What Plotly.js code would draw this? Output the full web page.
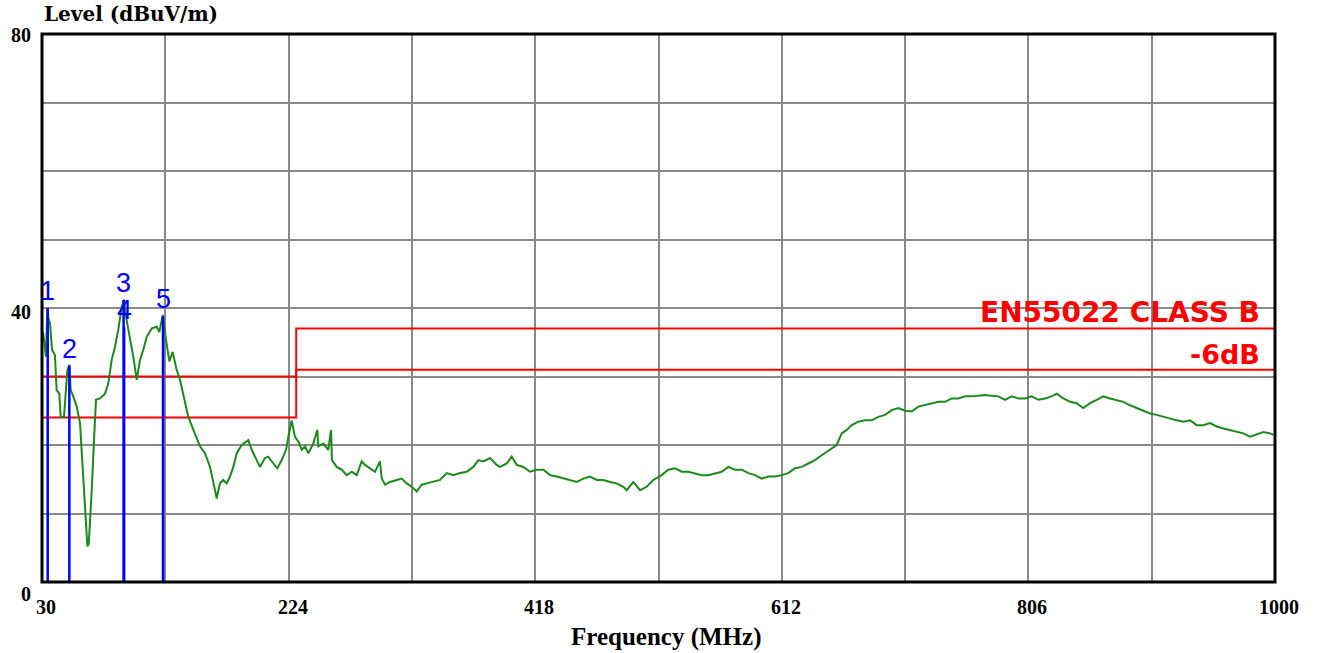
<!DOCTYPE html>
<html>
<head>
<meta charset="utf-8">
<script src="https://cdn.plot.ly/plotly-3.0.1.min.js"></script>
<style>html,body{margin:0;padding:0;background:#fff;}#chart{width:1320px;height:653px;}</style>
</head>
<body>
<div id="chart"></div>
<script>
// ---- data ----
const freqMHz = [30.8,33.1,34.2,35.0,36.3,37.9,40.2,41.5,43.6,44.7,47.3,48.4,49.9,51.5,52.6,54.6,57.3,59.9,61.5,63.0,64.1,65.7,66.8,67.8,69.1,70.9,72.5,75.6,79.6,82.2,84.8,87.4,90.0,92.7,94.5,96.6,99.2,101.8,104.5,107.1,109.7,112.4,116.3,120.2,122.3,125.0,127.6,130.2,132.8,136.0,138.6,141.2,145.1,149.1,154.3,158.2,162.2,166.1,167.4,170.0,172.6,175.3,177.9,180.5,183.2,187.1,192.3,195.0,198.9,201.5,205.4,208.0,210.7,215.1,218.6,222.0,223.8,226.4,229.0,231.7,234.3,236.9,239.5,243.4,246.6,247.4,251.3,255.2,257.4,258.1,261.8,265.8,269.7,273.7,277.6,281.5,284.1,288.0,292.0,295.9,297.3,299.9,303.8,309.1,313.0,316.9,320.9,324.8,328.7,332.7,337.8,343.1,348.4,353.6,358.9,364.1,369.3,373.3,377.2,382.5,387.7,390.3,395.6,399.5,403.5,408.7,413.9,419.2,424.4,429.7,434.9,440.1,445.4,450.7,455.9,461.1,466.4,471.6,476.9,482.1,487.3,490.0,495.2,500.5,505.7,510.9,517.5,522.7,528.0,533.3,538.5,543.7,549.0,554.2,559.5,564.7,570.0,575.2,580.5,585.7,591.0,596.2,601.4,606.7,611.9,617.1,622.4,627.7,632.9,638.1,643.4,649.9,655.2,659.1,663.1,667.0,672.2,677.5,682.7,688.0,693.2,698.5,703.7,709.0,714.2,719.4,724.7,729.9,735.2,740.4,745.7,750.9,756.2,761.4,766.6,771.9,777.1,782.4,787.6,792.9,798.1,803.4,808.6,813.8,819.1,824.3,828.3,833.5,838.8,844.0,849.2,854.5,859.8,865.0,870.2,875.5,880.7,886.0,891.2,896.4,901.7,906.9,912.2,917.4,922.7,927.9,933.2,938.4,943.6,948.9,954.1,959.4,964.6,969.9,975.1,980.4,985.6,990.9,996.1,998.7];
const levelDb = [36.5,32.9,40.0,38.5,37.8,33.9,33.1,28.0,27.5,24.1,24.1,27.5,30.9,31.7,28.0,27.1,25.6,23.2,18.3,13.4,10.5,5.2,5.6,8.6,13.4,20.7,26.6,26.8,27.5,29.0,32.4,34.3,36.8,40.2,41.2,38.2,35.8,32.9,29.5,32.4,33.9,35.8,37.0,37.3,36.5,39.0,35.3,32.2,33.6,30.9,29.5,27.5,24.1,22.2,19.8,18.8,16.8,13.4,12.2,14.4,14.9,14.4,15.4,16.8,18.8,20.0,20.7,19.3,17.8,16.8,18.1,18.3,17.6,16.6,17.8,19.3,21.2,23.6,21.2,20.5,19.3,19.8,18.8,20.2,22.2,19.8,20.2,19.3,22.2,17.8,16.8,16.4,15.6,16.1,15.6,17.6,17.1,16.6,16.1,17.6,15.1,14.2,14.6,14.9,15.1,14.4,13.9,13.2,14.2,14.4,14.6,14.9,15.9,15.6,15.9,16.1,16.8,17.8,17.6,18.1,17.1,16.8,17.3,18.3,17.1,16.8,16.1,16.4,16.4,15.6,15.4,15.1,14.9,14.6,15.1,15.4,14.9,14.9,14.6,14.4,13.9,13.4,14.6,13.4,13.9,14.9,15.6,16.4,16.6,16.1,16.1,15.9,15.6,15.6,15.9,16.1,16.8,16.4,16.4,15.9,15.6,15.1,15.4,15.4,15.6,15.9,16.6,16.8,17.3,17.8,18.5,19.3,20.0,21.7,22.2,22.9,23.4,23.6,23.6,24.1,24.4,25.1,25.4,25.0,24.9,25.6,25.8,26.1,26.3,26.3,26.8,26.8,27.1,27.1,27.2,27.3,27.2,27.1,26.6,27.1,26.8,26.8,27.1,26.6,26.8,27.1,27.5,26.8,26.3,26.1,25.4,26.1,26.6,27.1,26.8,26.6,26.3,25.8,25.4,25.1,24.6,24.4,24.1,23.9,23.6,23.4,23.6,22.9,22.9,23.2,22.7,22.4,22.2,21.9,21.7,21.2,21.5,21.9,21.7,21.5];

const limitFreq = [30, 230, 230, 1000];
const limitClassB = [30, 30, 37, 37];
const limitMinus6 = [24, 24, 31, 31];

const markerLabels = ['1', '2', '3', '4', '5'];
const markerFreq = [34.5, 51.5, 94.2, 94.6, 125.2];
const markerLevel = [40.0, 31.6, 41.2, 37.2, 38.8];

const xTickVals = [30, 224, 418, 612, 806, 1000];
const xTickLabels = ['30', '224', '418', '612', '806', '1000'];
const xGridVals = [127, 224, 321, 418, 515, 612, 709, 806, 903];
const yTickVals = [0, 40, 80];
const yTickLabels = ['0', '40', '80'];
const yGridVals = [10, 20, 30, 40, 50, 60, 70];

// ---- traces ----
const mx = [], my = [];
markerFreq.forEach((f, i) => { mx.push(f, f, null); my.push(0, markerLevel[i], null); });

const traces = [
  {x: limitFreq, y: limitClassB, mode: 'lines', line: {color: '#ff0000', width: 2}, hoverinfo: 'skip'},
  {x: limitFreq, y: limitMinus6, mode: 'lines', line: {color: '#ff0000', width: 2}, hoverinfo: 'skip'},
  {x: freqMHz, y: levelDb, mode: 'lines', line: {color: '#1a8a1a', width: 2}},
  {x: mx, y: my, mode: 'lines', line: {color: '#0000ff', width: 2.5}, hoverinfo: 'skip'}
];

const serif = 'Liberation Serif, Times New Roman, serif';
const ann = [];
// x tick labels
xTickVals.forEach((v, i) => ann.push({x: v, xref: 'x', y: -0.0456, yref: 'paper', text: xTickLabels[i], showarrow: false,
  xanchor: 'center', yanchor: 'middle', xshift: 4, font: {family: serif, size: 20, color: '#000', weight: 'bold'}}));
// y tick labels
const yPix = {0: -0.0219, 40: 0.4927, 80: 0.998};
yTickVals.forEach((v, i) => ann.push({x: 0, xref: 'paper', y: yPix[v], yref: 'paper', text: yTickLabels[i], showarrow: false,
  xanchor: 'right', yanchor: 'middle', xshift: -9, font: {family: serif, size: 20, color: '#000', weight: 'bold'}}));
// axis titles
ann.push({x: 0, xref: 'paper', y: 1.0365, yref: 'paper', text: 'Level (dBuV/m)', showarrow: false, xanchor: 'left', yanchor: 'middle',
  font: {family: 'DejaVu Serif, serif', size: 20, color: '#000', weight: 'bold'}});
ann.push({x: 0.506, xref: 'paper', y: -0.1004, yref: 'paper', text: 'Frequency (MHz)', showarrow: false, xanchor: 'center', yanchor: 'middle',
  font: {family: serif, size: 25, color: '#000', weight: 'bold'}});
// limit labels
ann.push({x: 0.9895, xref: 'paper', y: 37, yref: 'y', text: 'EN55022 CLASS B', showarrow: false, xanchor: 'right', yanchor: 'bottom', yshift: -2,
  font: {family: 'DejaVu Sans, sans-serif', size: 28, color: '#ff0000', weight: 'bold'}});
ann.push({x: 0.9895, xref: 'paper', y: 31, yref: 'y', text: '-6dB', showarrow: false, xanchor: 'right', yanchor: 'bottom', yshift: -2,
  font: {family: 'DejaVu Sans, sans-serif', size: 27, color: '#ff0000', weight: 'bold'}});
// marker labels
markerLabels.forEach((t, i) => ann.push({x: markerFreq[i], xref: 'x', y: markerLevel[i], yref: 'y', text: t, showarrow: false,
  xanchor: 'center', yanchor: 'middle', yshift: 17, font: {family: 'Liberation Sans, Arial, sans-serif', size: 27, color: '#0000ff'}}));

const layout = {
  width: 1320, height: 653,
  margin: {l: 42, r: 45, t: 34, b: 71},
  paper_bgcolor: '#fff', plot_bgcolor: '#fff',
  showlegend: false,
  xaxis: {range: [30, 1000], tickmode: 'array', tickvals: xGridVals, showticklabels: false, ticks: '',
    showgrid: true, gridcolor: '#8a8a8a', gridwidth: 2, zeroline: false, showline: false},
  yaxis: {range: [0, 80], tickmode: 'array', tickvals: yGridVals, showticklabels: false, ticks: '',
    showgrid: true, gridcolor: '#8a8a8a', gridwidth: 2, zeroline: false, showline: false},
  shapes: [{type: 'rect', xref: 'paper', yref: 'paper', x0: 0, x1: 1, y0: 0, y1: 1, line: {color: '#000', width: 3}, layer: 'above'}],
  annotations: ann
};

Plotly.newPlot('chart', traces, layout, {displayModeBar: false, staticPlot: true});
</script>
</body>
</html>
